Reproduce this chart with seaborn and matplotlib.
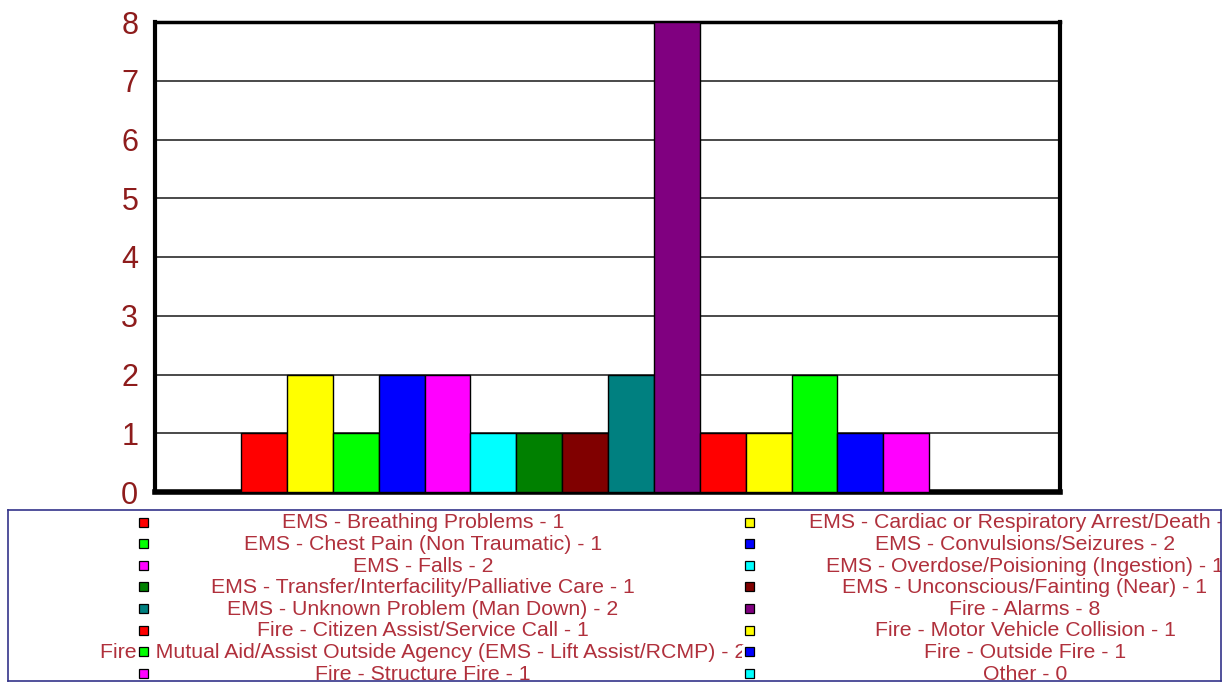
import matplotlib
matplotlib.use("Agg")
import matplotlib.pyplot as plt
from matplotlib.patches import Rectangle
import pandas as pd
import seaborn as sns

# Incident types and call counts
categories = [
    "EMS - Breathing Problems",
    "EMS - Cardiac or Respiratory Arrest/Death",
    "EMS - Chest Pain (Non Traumatic)",
    "EMS - Convulsions/Seizures",
    "EMS - Falls",
    "EMS - Overdose/Poisioning (Ingestion)",
    "EMS - Transfer/Interfacility/Palliative Care",
    "EMS - Unconscious/Fainting (Near)",
    "EMS - Unknown Problem (Man Down)",
    "Fire - Alarms",
    "Fire - Citizen Assist/Service Call",
    "Fire - Motor Vehicle Collision",
    "Fire - Mutual Aid/Assist Outside Agency (EMS - Lift Assist/RCMP)",
    "Fire - Outside Fire",
    "Fire - Structure Fire",
    "Other",
]
counts = [1, 2, 1, 2, 2, 1, 1, 1, 2, 8, 1, 1, 2, 1, 1, 0]
colors = [
    "#FF0000", "#FFFF00", "#00FF00", "#0000FF", "#FF00FF", "#00FFFF",
    "#008000", "#800000", "#008080", "#800080",
    "#FF0000", "#FFFF00", "#00FF00", "#0000FF", "#FF00FF", "#00FFFF",
]
y_ticks = [0, 1, 2, 3, 4, 5, 6, 7, 8]

sns.set_style("white")
plt.rcParams["font.family"] = ["Liberation Sans", "DejaVu Sans"]

W, H = 1229, 682
fig = plt.figure(figsize=(W / 100, H / 100), dpi=100)
fig.patch.set_facecolor("white")

# Main chart area
ax = fig.add_axes([155 / W, 1 - 492 / H, 905 / W, 470 / H])
df = pd.DataFrame({"category": categories, "count": counts})
sns.barplot(
    data=df, x="category", y="count", hue="category", order=categories,
    hue_order=categories, palette=colors, saturation=1, dodge=False,
    width=1.0, edgecolor="black", linewidth=1.0, legend=False, ax=ax,
    zorder=3,
)
ax.set_xlim(-2.375, 17.35)
ax.set_ylim(0, 8)
ax.set_yticks(y_ticks)
ax.set_yticklabels([str(v) for v in y_ticks], fontsize=22, color="#8E1C1C")
ax.tick_params(axis="y", length=0, pad=12)
ax.set_xticks([])
ax.set_xlabel("")
ax.set_ylabel("")
ax.yaxis.grid(True, color="#3a3a3a", linewidth=1.3, zorder=1)
ax.set_axisbelow(True)
for side, lw in {"left": 3.0, "bottom": 4.0, "top": 2.5, "right": 3.0}.items():
    ax.spines[side].set_visible(True)
    ax.spines[side].set_color("black")
    ax.spines[side].set_linewidth(lw)

# Legend panel, drawn in pixel coordinates
lx0, lx1, ly0, ly1 = 8, 1221, 510, 681
lax = fig.add_axes([lx0 / W, 1 - ly1 / H, (lx1 - lx0) / W, (ly1 - ly0) / H])
lax.set_xlim(lx0, lx1)
lax.set_ylim(ly1, ly0)
lax.set_xticks([])
lax.set_yticks([])
for s in lax.spines.values():
    s.set_color("#34348a")
    s.set_linewidth(1.2)

row_y0, row_dy = 522, 21.6
col_marker_x = [143, 749]
col_text_x = [423, 1025]
msz = 9
for i, (cat, val, col) in enumerate(zip(categories, counts, colors)):
    r, c = divmod(i, 2)
    yy = row_y0 + r * row_dy
    lax.text(col_text_x[c], yy + 1, f"{cat} - {val}", ha="center", va="center",
             fontsize=15.3, color="#B0303C", clip_on=True, zorder=2)
    mx = col_marker_x[c]
    lax.add_patch(Rectangle((mx - 7, yy - 7), 14, 14, facecolor="white",
                            edgecolor="none", zorder=3))
    lax.add_patch(Rectangle((mx - msz / 2, yy - msz / 2), msz, msz,
                            facecolor=col, edgecolor="black", linewidth=0.9,
                            zorder=4))

fig.savefig("out.png", dpi=100, facecolor="white")
